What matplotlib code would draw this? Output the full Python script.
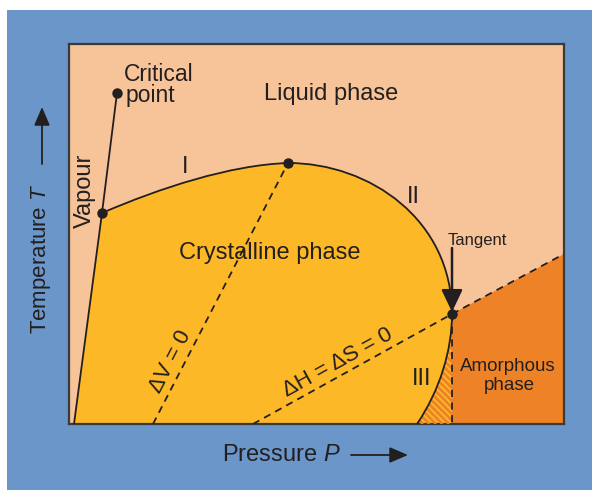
import matplotlib
matplotlib.use("Agg")
import numpy as np
import matplotlib.pyplot as plt
from matplotlib.path import Path
from matplotlib.patches import PathPatch, Rectangle, Polygon
from matplotlib.collections import LineCollection

plt.rcParams['font.family'] = ['Liberation Sans', 'DejaVu Sans']
plt.rcParams['mathtext.fontset'] = 'custom'
plt.rcParams['mathtext.it'] = 'Liberation Sans:italic'
plt.rcParams['mathtext.rm'] = 'Liberation Sans'

# ---- data (diagram coordinates: pressure to the right, temperature on an inverted axis) ----
critical_point = (117, 93)
triple_point = (102, 213)
vapour_bottom = (74, 424)
max_point = (288, 163)
tangent_point = (452, 314)
# Bezier control points of the phase boundaries
curve_I = [(160, 188), (230, 165), (288, 163)]
curve_II = [(370, 163), (452, 220), (452, 314)]
curve_III = [(452, 350), (440, 390), (417, 424)]
dV_line_x = [153, 288]
dV_line_y = [424, 163]
dH_line_x = [253, 452]
dH_line_y = [424, 314]
amorph_line_x = [452, 564]
amorph_line_y = [314, 254]
P_range = (69, 564)
T_range = (424, 44)

C_LIQ = '#F7C499'
C_CRY = '#FDB827'
C_AMO = '#EE8227'
C_BLUE = '#6B96C9'
C_INK = '#231F20'

fig = plt.figure(figsize=(5.92, 4.90), dpi=100)
fig.patch.set_facecolor('white')
fig.patches.append(Rectangle((7/592, 0), 1 - 7/592, 1 - 10/490, transform=fig.transFigure,
                             facecolor=C_BLUE, edgecolor='none', zorder=-10))

ax = fig.add_axes([69/592, (490-424)/490, 495/592, 380/490])
ax.set_xlim(*P_range)
ax.set_ylim(*T_range)
ax.set_facecolor(C_LIQ)
ax.set_xticks([]); ax.set_yticks([])
for s in ax.spines.values():
    s.set_color('#3a3a3a'); s.set_linewidth(1.6)

# crystalline region
verts = [vapour_bottom, triple_point] + curve_I + curve_II + curve_III + [vapour_bottom, vapour_bottom]
codes = [Path.MOVETO, Path.LINETO] + [Path.CURVE4]*9 + [Path.LINETO, Path.CLOSEPOLY]
ax.add_patch(PathPatch(Path(verts, codes), facecolor=C_CRY, edgecolor='none', zorder=1))

# amorphous region
amorph = [tangent_point, (amorph_line_x[1], amorph_line_y[1]), (P_range[1], T_range[0]), (tangent_point[0], T_range[0])]
ax.add_patch(Polygon(amorph, closed=True, facecolor=C_AMO, edgecolor='none', zorder=1))

# hatched region between curve III and the vertical dashed line
hverts = [tangent_point] + curve_III + [(tangent_point[0], T_range[0]), tangent_point]
hcodes = [Path.MOVETO] + [Path.CURVE4]*3 + [Path.LINETO, Path.CLOSEPOLY]
hpatch = PathPatch(Path(hverts, hcodes), facecolor=C_CRY, edgecolor='none', zorder=2)
ax.add_patch(hpatch)
segs = [[(c, T_range[0] - 130), (c + 130, T_range[0])] for c in np.arange(280, 470, 6.5)]
lc = LineCollection(segs, colors=C_AMO, linewidths=2.0, zorder=3)
ax.add_collection(lc)
lc.set_clip_path(hpatch)

# solid boundaries
bverts = [triple_point] + curve_I + curve_II + curve_III
bcodes = [Path.MOVETO] + [Path.CURVE4]*9
ax.add_patch(PathPatch(Path(bverts, bcodes), facecolor='none', edgecolor=C_INK, lw=1.3, zorder=4))
ax.plot([vapour_bottom[0], triple_point[0], critical_point[0]],
        [vapour_bottom[1], triple_point[1], critical_point[1]], color=C_INK, lw=1.3, zorder=4)

# dashed lines
ds = dict(color=C_INK, lw=1.3, linestyle=(0, (4, 3)), zorder=4)
ax.plot(dV_line_x, dV_line_y, **ds)
ax.plot(dH_line_x, dH_line_y, **ds)
ax.plot(amorph_line_x, amorph_line_y, **ds)
ax.plot([tangent_point[0]]*2, [tangent_point[1], T_range[0]], **ds)

# points
px = [critical_point[0], triple_point[0], max_point[0], tangent_point[0]]
py = [critical_point[1], triple_point[1], max_point[1], tangent_point[1]]
ax.plot(px, py, 'o', color=C_INK, ms=6.5, zorder=6)

# tangent arrow
ax.annotate('', xy=(tangent_point[0], tangent_point[1]-2), xytext=(tangent_point[0], 248),
            arrowprops=dict(arrowstyle='-|>,head_length=0.8,head_width=0.38', lw=1.8, color=C_INK,
                            shrinkA=0, shrinkB=0, mutation_scale=17), zorder=7)

tk = dict(color=C_INK, zorder=8)
ax.text(331, 100, 'Liquid phase', fontsize=17, ha='center', va='baseline', **tk)
ax.text(124, 81, 'Critical', fontsize=16.5, ha='left', va='baseline', **tk)
ax.text(126, 102, 'point', fontsize=16.5, ha='left', va='baseline', **tk)
ax.text(85, 191, 'Vapour', fontsize=17, ha='center', va='center', rotation=90, **tk)
ax.text(185, 173, 'I', fontsize=17, ha='center', va='baseline', **tk)
ax.text(413, 203, 'II', fontsize=17, ha='center', va='baseline', **tk)
ax.text(422, 385, 'III', fontsize=17, ha='center', va='baseline', **tk)
ax.text(270, 259, 'Crystalline phase', fontsize=17, ha='center', va='baseline', **tk)
ax.text(477, 245, 'Tangent', fontsize=12, ha='center', va='baseline', **tk)
ax.text(508, 371, 'Amorphous', fontsize=13.5, ha='center', va='baseline', **tk)
ax.text(509, 390, 'phase', fontsize=13.5, ha='center', va='baseline', **tk)
ax.text(171, 362, 'ΔV = 0', fontsize=16, ha='center', va='center', rotation=62.6,
        rotation_mode='anchor', **tk)
ax.text(338, 363, 'ΔH = ΔS = 0', fontsize=16, ha='center', va='center', rotation=28.9,
        rotation_mode='anchor', **tk)

# axis labels with arrows
ax.text(281, 455, 'Pressure $P$', fontsize=17, ha='center', va='center', clip_on=False, **tk)
ax.annotate('', xy=(408, 455), xytext=(351, 455), annotation_clip=False,
            arrowprops=dict(arrowstyle='-|>,head_length=0.7,head_width=0.3', lw=1.3, color=C_INK,
                            shrinkA=0, shrinkB=0, mutation_scale=16))
ax.text(41, 259, 'Temperature $T$', fontsize=16, ha='center', va='center', rotation=90,
        clip_on=False, **tk)
ax.annotate('', xy=(42, 107), xytext=(42, 164), annotation_clip=False,
            arrowprops=dict(arrowstyle='-|>,head_length=0.7,head_width=0.3', lw=1.3, color=C_INK,
                            shrinkA=0, shrinkB=0, mutation_scale=16))

fig.savefig('out.png', dpi=100)
